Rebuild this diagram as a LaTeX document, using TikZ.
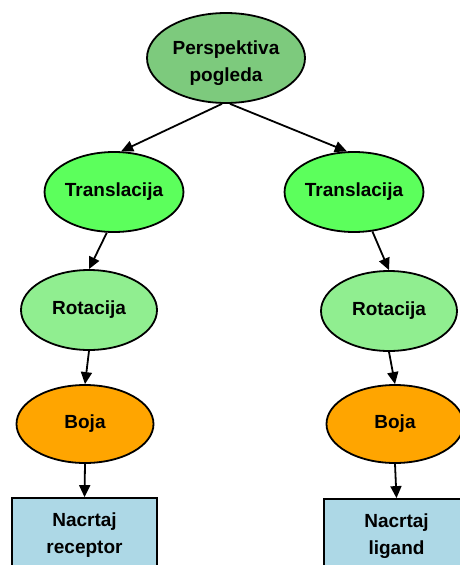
\documentclass[tikz,border=0pt]{standalone}
\usepackage{fontspec}
\setmainfont{Liberation Sans}
\usetikzlibrary{shapes.geometric,arrows.meta}
\definecolor{persp}{RGB}{125,202,125}
\definecolor{transl}{RGB}{92,255,92}
\definecolor{rotac}{RGB}{144,238,144}
\definecolor{boja}{RGB}{255,165,0}
\definecolor{nacrt}{RGB}{173,216,230}
\newcommand{\topspace}{\rule{0pt}{24pt}}
\tikzset{
  base/.style={draw=black,line width=1.8pt,inner sep=0pt,align=center,
    font=\fontsize{19}{26.5}\selectfont\bfseries},
  ell/.style={base,ellipse,minimum width=#1},
  boxnode/.style={base,rectangle,minimum width=145pt,minimum height=74pt,fill=nacrt},
  conn/.style={line width=1.8pt,-{Triangle[length=12pt,width=11pt]}}
}
\begin{document}
\begin{tikzpicture}[x=1pt,y=-1pt]
\useasboundingbox (0,0) rectangle (460,565);
\clip (0,0) rectangle (460,565);
\node[ell=158pt,minimum height=90pt,fill=persp] (p) at (226,58) {\topspace Perspektiva\\pogleda};
\node[ell=138pt,minimum height=80pt,fill=transl] (t1) at (114,192) {Translacija};
\node[ell=136pt,minimum height=80pt,fill=transl] (t2) at (354,192) {Translacija};
\node[ell=136pt,minimum height=80pt,fill=rotac] (r1) at (89,310) {Rotacija};
\node[ell=136pt,minimum height=80pt,fill=rotac] (r2) at (389,311) {Rotacija};
\node[ell=137pt,minimum height=78pt,fill=boja] (b1) at (85,424) {Boja};
\node[ell=137pt,minimum height=78pt,fill=boja] (b2) at (395,424) {Boja};
\node[boxnode] (n1) at (84.5,535) {Nacrtaj\\receptor};
\node[boxnode] (n2) at (396.5,536) {Nacrtaj\\ligand};
\draw[conn] (p.-95) -- (t1.80);
\draw[conn] (p.-85) -- (t2.100);
\draw[conn] (t1.-100) -- (r1.north);
\draw[conn] (t2.-65) -- (r2.north);
\draw[conn] (r1.south) -- (b1.north);
\draw[conn] (r2.south) -- (b2.north);
\draw[conn] (b1.south) -- (n1.north);
\draw[conn] (b2.south) -- (n2.north);
\end{tikzpicture}
\end{document}
